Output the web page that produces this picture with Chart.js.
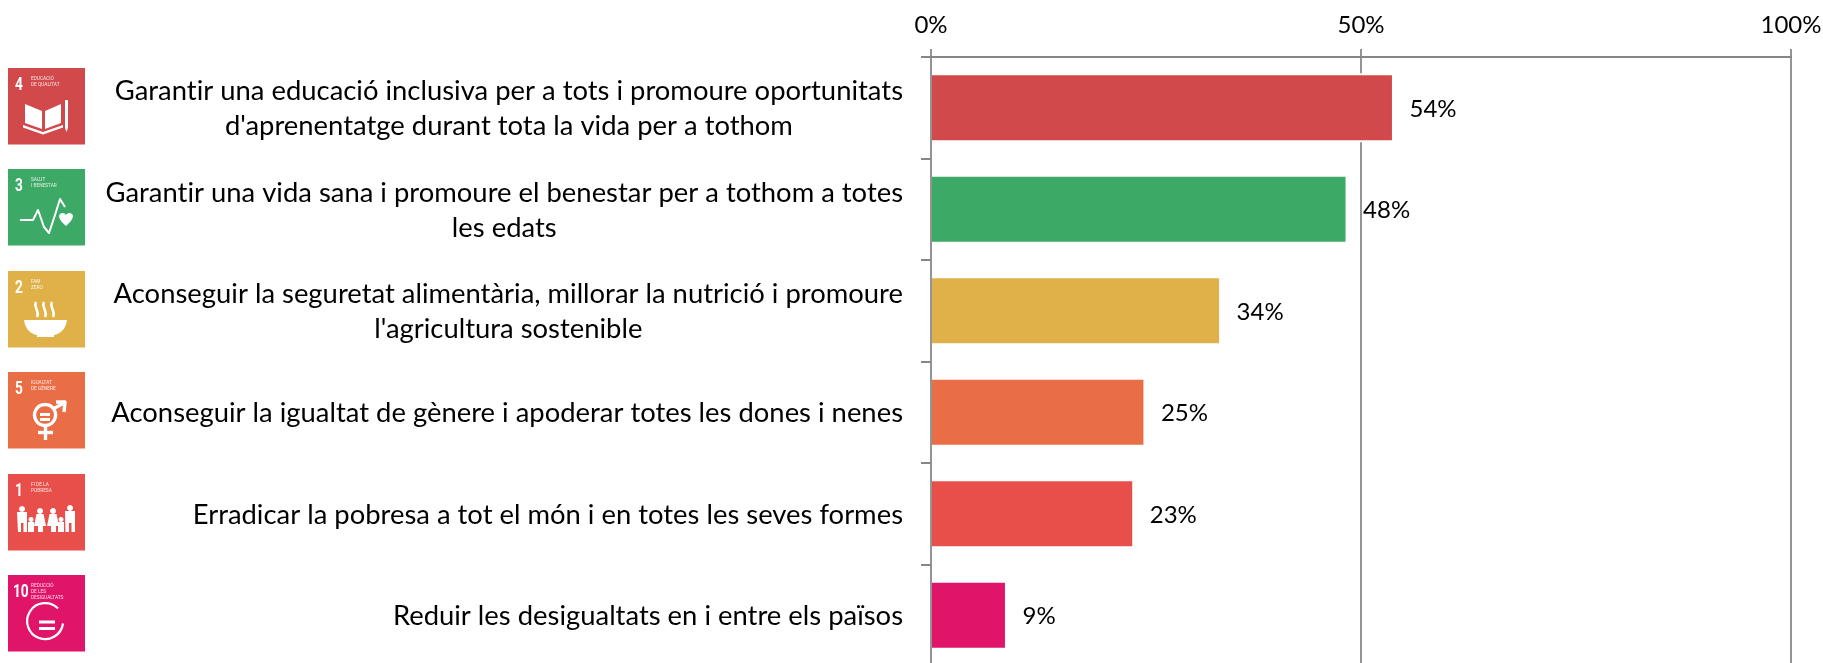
<!DOCTYPE html>
<html><head><meta charset="utf-8">
<style>html,body{margin:0;padding:0;background:#fff;overflow:hidden;width:1823px;height:663px}canvas{display:block}</style>
<script src="https://cdn.jsdelivr.net/npm/chart.js@4/dist/chart.umd.js"></script>
</head><body><canvas id="c" width="1823" height="672"></canvas>
<script>
const categories = [
 ["Garantir una educació inclusiva per a tots i promoure oportunitats","d'aprenentatge durant tota la vida per a tothom"],
 ["Garantir una vida sana i promoure el benestar per a tothom a totes","les edats"],
 ["Aconseguir la seguretat alimentària, millorar la nutrició i promoure","l'agricultura sostenible"],
 ["Aconseguir la igualtat de gènere i apoderar totes les dones i nenes"],
 ["Erradicar la pobresa a tot el món i en totes les seves formes"],
 ["Reduir les desigualtats en i entre els països"]
];
const values = [53.6, 48.2, 33.5, 24.7, 23.4, 8.6];
const valueLabels = ["54%","48%","34%","25%","23%","9%"];
const barColors = ["#D2494C","#3CA966","#DFB148","#E96E46","#E84F4A","#E0156A"];
const tileNumbers = ["4","3","2","5","1","10"];
const tileCaptions = [["EDUCACIÓ","DE QUALITAT"],["SALUT","I BENESTAR"],["FAM","ZERO"],["IGUALTAT","DE GÈNERE"],["FI DE LA","POBRESA"],["REDUCCIÓ","DE LES","DESIGUALTATS"]];
const tickValues = [0,50,100];
const CAT_FONT = '27.4px Lato';
const NUM_FONT = '24px Lato';

const glyphs = [
 {lw:2,fill:["M17 36 L34 43 L34 61 L17 55Z","M37 43 L53 36 L53 55 L37 61Z","M15 57 L35 64 L55 57 L55 59.5 L35 66.5 L15 59.5Z","M57 32 L60 32 L60 60 L58.5 64 L57 60Z"]},
 {lw:2,stroke:["M12 51 L25 51 L30 41 L36 58 L41 64 L47 46 L52 30 L57 38"],fill:["M58 57 C51 51 50 47 52 45 C54 43 57 44 58 46 C59 44 62 43 64 45 C66 47 65 51 58 57Z"]},
 {lw:2.6,fill:["M16 49 L59 49 C58 58 52 63 46 64 L46 66 L29 66 L29 64 C23 63 17 58 16 49Z"],stroke:["M28 31 C25 36 32 40 29 46","M36 31 C33 36 40 40 37 46","M44 31 C41 36 48 40 45 46"]},
 {lw:3.4,stroke:["M37 32.5 a10.5 10.5 0 1 0 0.1 0Z","M45 37 L56 31","M48 30 L57 30 L56 40","M37.5 54 L37.5 68","M30 60.5 L45 60.5"],fill:["M32 41 H42 V44 H32Z","M32 46 H42 V49 H32Z"]},
 {lw:2,fill:["M14 32 a3 3 0 1 0 0.1 0Z M9 38 H19 V58 H15.5 V49 H13 V58 H10Z","M23 43 a2.5 2.5 0 1 0 0.1 0Z M20 48 H26 V58 H20Z","M32 34 a3 3 0 1 0 0.1 0Z M28.5 40 H35.5 L38 52 H35 V58 H30 V52 H26Z","M45 34 a3 3 0 1 0 0.1 0Z M41.5 40 H48.5 L51 52 H48 V58 H43 V52 H39Z","M53 43 a2.5 2.5 0 1 0 0.1 0Z M50 48 H56 V58 H50Z","M62 31 a3 3 0 1 0 0.1 0Z M57 37 H67 V58 H63.5 V49 H61 V58 H57.5Z"]},
 {lw:2.2,stroke:["M50 33.5 A18 18 0 1 0 55 48.5"],fill:["M31 45.5 H47 V48.5 H31Z","M31 52 H47 V55 H31Z"]}
];

const drawPlugin = {
 id:'draw',
 beforeDatasetsDraw(chart){
  const ctx=chart.ctx, m=chart.getDatasetMeta(0);
  ctx.save(); ctx.fillStyle='#fff';
  m.data.forEach(b=>{ctx.fillRect(b.base+1,b.y-b.height/2-2,b.x-b.base+1,b.height+4);});
  ctx.restore();
 },
 afterDatasetsDraw(chart){
  const ctx=chart.ctx, m=chart.getDatasetMeta(0), ys=chart.scales.y;
  ctx.save();
  ctx.letterSpacing='0.01px';
  ctx.fillStyle='#000'; ctx.textBaseline='middle';
  ctx.font=NUM_FONT;
  m.data.forEach((b,i)=>{ ctx.textAlign='left'; ctx.fillText(valueLabels[i],b.x+17.5,b.y+1.5); });
  ctx.font=CAT_FONT;
  const rightEdge=chart.chartArea.left-28;
  categories.forEach((lines,i)=>{
    const y=ys.getPixelForValue(i);
    const w=Math.max(...lines.map(l=>ctx.measureText(l).width));
    ctx.textAlign='center';
    lines.forEach((l,j)=>ctx.fillText(l,rightEdge-w/2,y+1+(j-(lines.length-1)/2)*35));
  });
  ctx.restore();
  // SDG tiles
  categories.forEach((_,i)=>{
    const y=ys.getPixelForValue(i);
    const g=glyphs[i];
    ctx.save();
    ctx.translate(8,Math.round(y-38.5-1.5));
    ctx.filter='blur(0.4px)';
    ctx.fillStyle=barColors[i]; ctx.fillRect(0,0,77,76.5);
    ctx.fillStyle='#fff'; ctx.strokeStyle='#fff'; ctx.lineWidth=g.lw; ctx.lineJoin='round';
    (g.fill||[]).forEach(p=>ctx.fill(new Path2D(p)));
    (g.stroke||[]).forEach(p=>ctx.stroke(new Path2D(p)));
    ctx.textBaseline='alphabetic'; ctx.textAlign='left';
    ctx.save(); ctx.scale(0.72,1);
    ctx.font='bold 19px Roboto';
    ctx.fillText(tileNumbers[i],(tileNumbers[i].length>1?5:7)/0.72,22);
    ctx.restore();
    ctx.save(); ctx.scale(0.85,1);
    ctx.font='5.6px Roboto';
    ctx.fillStyle='rgba(255,255,255,.85)';
    tileCaptions[i].forEach((t,j)=>ctx.fillText(t,23/0.85,12+j*6));
    ctx.restore();
    ctx.restore();
  });
 }
};

new Chart(document.getElementById('c'),{
 type:'bar',
 data:{labels:categories.map(l=>l.join(' ')),datasets:[{data:values,backgroundColor:barColors,borderWidth:0,categoryPercentage:0.64,barPercentage:1}]},
 plugins:[drawPlugin],
 options:{
  indexAxis:'y',responsive:false,animation:false,
  layout:{padding:{left:0,right:32,top:0,bottom:6}},
  plugins:{legend:{display:false},tooltip:{enabled:false},title:{display:false}},
  scales:{
   x:{position:'top',min:0,max:100,
      afterFit(s){s.height=57;s.paddingLeft=0;s.paddingRight=0;},
      border:{display:true,color:'#868686',width:2},
      grid:{color:'#949494',lineWidth:2,tickLength:8},
      ticks:{stepSize:50,maxRotation:0,padding:9,color:'#000',font:{family:'Lato',size:24},
             callback:v=>tickValues.includes(v)?v+'%':''}},
   y:{position:'left',
      afterFit(s){s.width=931;},
      border:{display:false},
      grid:{offset:true,drawOnChartArea:false,color:'#868686',lineWidth:2,tickLength:10},
      ticks:{display:false}}
  }
 }
});
</script></body></html>
